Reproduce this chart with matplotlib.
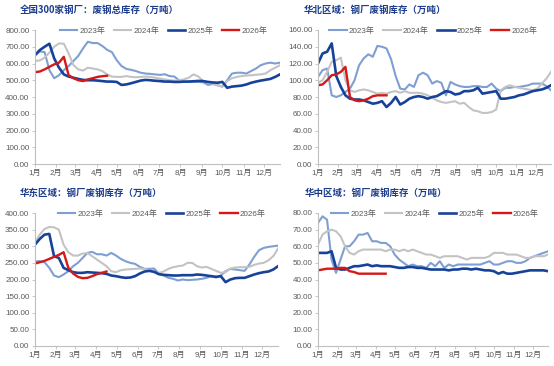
import numpy as np
import matplotlib.pyplot as plt

plt.rcParams["font.family"] = ["Liberation Sans", "Noto Sans CJK SC"]

# --------------------------------------------------
# Data (weekly, 万吨)
# --------------------------------------------------

months = ["1月", "2月", "3月", "4月", "5月", "6月", "7月", "8月", "9月", "10月", "11月", "12月"]
month_start_days = [0, 31, 59, 90, 120, 151, 181, 212, 243, 273, 304, 334]
years = ["2023年", "2024年", "2025年", "2026年"]

# 全国300家钢厂
nat_2023 = [650, 672, 668, 560, 512, 530, 560, 585, 615, 645, 690, 730, 722, 722, 705, 682, 668, 620,
            585, 568, 562, 555, 545, 540, 538, 535, 532, 536, 525, 522, 500, 490, 492, 490, 490, 488,
            472, 478, 470, 462, 500, 540, 545, 545, 540, 555, 570, 590, 600, 605, 600, 605]
nat_2024 = [615, 618, 635, 665, 700, 720, 718, 660, 590, 565, 558, 575, 570, 565, 555, 535, 522, 520,
            520, 525, 520, 518, 520, 522, 520, 515, 510, 505, 500, 498, 500, 505, 515, 535, 522, 495,
            488, 480, 470, 462, 495, 512, 520, 525, 528, 530, 533, 535, 540, 560, 575, 590]
nat_2025 = [650, 680, 700, 718, 630, 575, 535, 522, 515, 508, 502, 500, 500, 498, 495, 492, 492, 490,
            472, 475, 482, 490, 498, 502, 500, 497, 495, 492, 492, 490, 490, 492, 492, 494, 496, 495,
            490, 487, 485, 490, 455, 462, 465, 468, 475, 485, 492, 498, 503, 508, 520, 535]
nat_2026 = [548, 552, 565, 580, 595, 605, 640, 530, 512, 500, 495, 505, 512, 520, 524, 527]

# 华北区域
nc_2023 = [104, 112, 114, 82, 80, 82, 86, 90, 100, 118, 126, 131, 128, 141, 140, 138, 125, 105,
           90, 89, 95, 92, 106, 109, 106, 96, 99, 97, 82, 98, 95, 93, 92, 92, 93, 93,
           92, 92, 96, 90, 87, 91, 91, 92, 92, 93, 94, 96, 96, 96, 93, 88]
nc_2024 = [97, 100, 110, 122, 124, 127, 100, 88, 86, 88, 89, 88, 86, 84, 85, 84, 86, 87,
           85, 87, 85, 85, 85, 84, 82, 79, 76, 74, 73, 74, 75, 72, 73, 68, 64, 63,
           61, 61, 62, 65, 88, 92, 94, 92, 91, 90, 89, 88, 90, 96, 102, 110]
nc_2025 = [120, 132, 134, 144, 105, 92, 82, 78, 77, 77, 76, 74, 72, 73, 75, 68, 73, 80,
           71, 74, 78, 80, 81, 80, 78, 80, 81, 84, 87, 86, 83, 84, 87, 87, 88, 91,
           84, 85, 86, 87, 78, 78, 79, 80, 82, 83, 85, 87, 88, 89, 91, 94]
nc_2026 = [94, 95, 100, 106, 107, 110, 116, 80, 76, 75, 76, 78, 81, 82, 82, 82]

# 华东区域
ec_2023 = [255, 255, 252, 235, 212, 207, 215, 225, 240, 250, 265, 280, 283, 276, 276, 272, 280, 272,
           262, 255, 250, 247, 238, 232, 232, 233, 218, 212, 205, 202, 197, 200, 198, 199, 200, 202,
           205, 210, 206, 212, 225, 232, 230, 228, 226, 245, 268, 288, 295, 298, 300, 302]
ec_2024 = [312, 335, 352, 358, 357, 350, 305, 282, 272, 272, 278, 280, 270, 260, 250, 240, 225, 222,
           228, 230, 231, 232, 233, 231, 229, 222, 220, 224, 232, 237, 240, 242, 250, 250, 240, 236,
           238, 232, 226, 220, 222, 233, 236, 237, 237, 238, 244, 248, 250, 258, 270, 293]
ec_2025 = [305, 322, 335, 337, 270, 265, 235, 228, 222, 220, 220, 222, 221, 220, 219, 217, 212, 210,
           207, 205, 206, 210, 218, 224, 226, 223, 216, 214, 213, 212, 212, 213, 213, 213, 215, 214,
           212, 210, 208, 210, 192, 200, 204, 205, 205, 210, 215, 219, 222, 224, 230, 240]
ec_2026 = [248, 252, 256, 262, 268, 274, 282, 235, 218, 208, 204, 205, 210, 216, 220, 224]

# 华中区域
cc_2023 = [74, 78, 76, 52, 44, 52, 60, 60, 63, 67, 67, 68, 63, 63, 62, 62, 60, 55,
           52, 50, 48, 49, 48, 48, 47, 50, 48, 51, 47, 49, 48, 49, 49, 49, 49, 49,
           49, 50, 51, 49, 49, 50, 51, 51, 50, 50, 51, 53, 54, 55, 56, 57]
cc_2024 = [61, 67, 69, 70, 69, 66, 60, 56, 55, 57, 58, 58, 58, 58, 58, 57, 58, 58,
           57, 58, 57, 58, 57, 56, 55, 55, 54, 53, 54, 54, 54, 54, 53, 52, 53, 53,
           53, 53, 54, 56, 56, 56, 55, 55, 55, 54, 53, 53, 54, 54, 54, 55]
cc_2025 = [56, 56, 56, 57, 47, 46, 46, 47, 48, 48, 48.5, 49, 48, 48.5, 48, 48, 48, 47.5,
           47, 47, 47.5, 47.5, 47, 47, 46.5, 46, 46, 46, 46, 45.5, 46, 46, 46.5, 46.5, 46, 46.5,
           46, 45.5, 45.5, 45, 43.5, 44.5, 43.5, 43.5, 44, 44.5, 45, 45.5, 45.5, 45.5, 45.5, 45]
cc_2026 = [45.5, 46, 46.5, 46.5, 46.5, 47, 47, 45, 44.5, 43.5, 43.5, 43.5, 43.5, 43.5, 43.5, 43.5]

# --------------------------------------------------
# Panels
# --------------------------------------------------

colors = ["#7f9fd3", "#c3c3c3", "#17429a", "#d51818"]
widths = [1.5, 1.5, 1.9, 1.7]
W, H = 554, 366

panels = [
    # title, series, ymax, ystep, axes box (px: left, right, top, bottom), title xy, legend right
    ("全国300家钢厂：废钢总库存（万吨）", [nat_2023, nat_2024, nat_2025, nat_2026], 800, 100,
     (35, 280, 30, 164), (20, 10), 0.95),
    ("华北区域：钢厂废钢库存（万吨）", [nc_2023, nc_2024, nc_2025, nc_2026], 160, 20,
     (318, 551, 30, 164), (304, 10), 0.94),
    ("华东区域：钢厂废钢库存（万吨）", [ec_2023, ec_2024, ec_2025, ec_2026], 400, 50,
     (35, 278, 213, 346), (20, 193), 0.95),
    ("华中区域：钢厂废钢库存（万吨）", [cc_2023, cc_2024, cc_2025, cc_2026], 80, 10,
     (318, 548, 213, 346), (305, 193), 0.96),
]

fig = plt.figure(figsize=(W / 100, H / 100), dpi=100)

for title, series, ymax, ystep, (l, r, t, b), (tx, ty), leg_r in panels:

    ax = fig.add_axes([l / W, 1 - b / H, (r - l) / W, (b - t) / H])

    for s, name, c, lw in zip(series, years, colors, widths):
        x = np.arange(len(s)) * 7
        ax.plot(x, s, color=c, lw=lw, label=name, solid_joinstyle="round")

    ax.set_xlim(0, 357)
    ax.set_ylim(0, ymax)
    ax.set_yticks(np.arange(0, ymax + ystep / 2, ystep))
    ax.yaxis.set_major_formatter(plt.FormatStrFormatter("%.2f"))
    ax.set_xticks(month_start_days)
    ax.set_xticklabels(months)

    ax.tick_params(axis="y", length=2.5, width=0.6, color="#bfbfbf", pad=1.5,
                   labelsize=5.8, labelcolor="#595959")
    ax.tick_params(axis="x", length=2.5, width=0.6, color="#bfbfbf", pad=2,
                   labelsize=5.8, labelcolor="#595959")

    for side in ["top", "right"]:
        ax.spines[side].set_visible(False)
    for side in ["left", "bottom"]:
        ax.spines[side].set_color("#bfbfbf")
        ax.spines[side].set_linewidth(0.8)

    leg = ax.legend(
        loc="center right",
        bbox_to_anchor=(leg_r, 0.99),
        ncol=4,
        frameon=False,
        fontsize=5.8,
        handlelength=2.2,
        handletextpad=0.3,
        columnspacing=1.0,
        borderpad=0,
        borderaxespad=0,
    )
    for txt in leg.get_texts():
        txt.set_color("#595959")

    fig.text(tx / W, 1 - ty / H, title, ha="left", va="center",
             fontsize=6.8, fontweight="bold", color="#1c3c8c",
             family=["Noto Sans CJK SC"])

fig.savefig("out.png", dpi=100)
